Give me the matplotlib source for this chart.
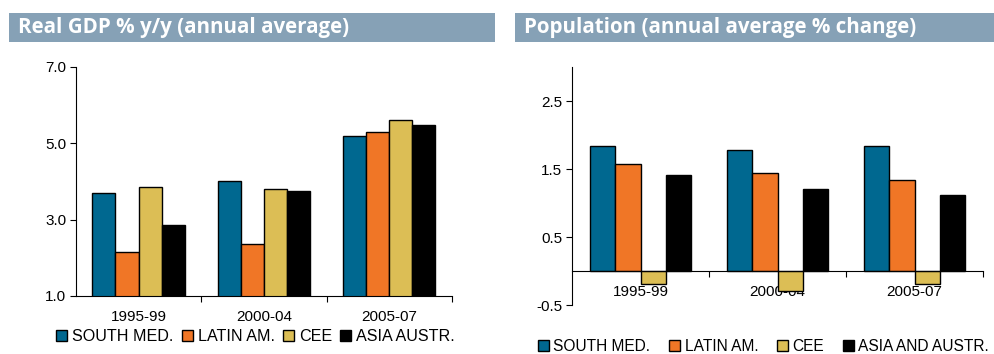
import numpy as np
import matplotlib
matplotlib.use("Agg")
import matplotlib.pyplot as plt
from matplotlib.patches import Rectangle

periods = ["1995-99", "2000-04", "2005-07"]
gdp_labels = ["SOUTH MED.", "LATIN AM.", "CEE", "ASIA AUSTR."]
pop_labels = ["SOUTH MED.", "LATIN AM.", "CEE", "ASIA AND AUSTR."]

# real GDP growth, % y/y
gdp_south_med = [3.7, 4.0, 5.2]
gdp_latin_am = [2.15, 2.37, 5.3]
gdp_cee = [3.85, 3.8, 5.6]
gdp_asia = [2.85, 3.75, 5.47]

# population growth, annual average %
pop_south_med = [1.84, 1.79, 1.84]
pop_latin_am = [1.58, 1.44, 1.35]
pop_cee = [-0.18, -0.29, -0.18]
pop_asia = [1.41, 1.21, 1.12]

colors = ["#006890", "#F07626", "#DCBE55", "#000000"]
band_color = "#86A1B6"

plt.rcParams["font.family"] = ["Liberation Sans", "DejaVu Sans"]
plt.rcParams["font.size"] = 11

fig = plt.figure(figsize=(9.94, 3.54), dpi=100)

# heading bands
for x0, w, text in [(0.009, 0.489, "Real GDP % y/y (annual average)"),
                    (0.518, 0.482, "Population (annual average % change)")]:
    fig.patches.append(Rectangle((x0, 0.8814), w, 0.0819, transform=fig.transFigure,
                                 facecolor=band_color, edgecolor="none"))
    fig.text(x0 + 0.0095, 0.921, text, color="white", fontsize=14.8, fontweight="bold",
             family="Open Sans", va="center", ha="left")

x = np.arange(len(periods))
bw = 0.185


def draw(ax, series, labels):
    for i, (vals, col, lab) in enumerate(zip(series, colors, labels)):
        ax.bar(x + (i - 1.5) * bw, vals, bw, color=col, edgecolor="black",
               linewidth=1.0, label=lab, zorder=2)
    ax.set_xlim(-0.5, 2.5)
    ax.set_xticks([0.5, 1.5, 2.5])
    ax.set_xticklabels([])
    ax.set_xticks(x, minor=True)
    ax.set_xticklabels(periods, minor=True)
    ax.tick_params(axis="x", which="major", direction="out", length=4, width=0.8)
    ax.tick_params(axis="x", which="minor", length=0, pad=10)
    ax.tick_params(axis="y", direction="out", length=4, width=0.8, pad=3)
    for s in ["top", "right"]:
        ax.spines[s].set_visible(False)
    ax.spines["left"].set_linewidth(0.8)
    ax.spines["bottom"].set_linewidth(0.8)


ax1 = fig.add_axes([0.0765, 0.164, 0.378, 0.647])
draw(ax1, [gdp_south_med, gdp_latin_am, gdp_cee, gdp_asia], gdp_labels)
ax1.set_ylim(1, 7)
ax1.set_yticks([1, 3, 5, 7])
ax1.set_yticklabels(["1.0", "3.0", "5.0", "7.0"])
ax1.legend(loc="center", bbox_to_anchor=(0.257, 0.049), bbox_transform=fig.transFigure,
           ncol=4, frameon=False, handlelength=0.7, handleheight=0.7,
           handletextpad=0.3, columnspacing=0.5, fontsize=11.6)

ax2 = fig.add_axes([0.5755, 0.1376, 0.4135, 0.672])
draw(ax2, [pop_south_med, pop_latin_am, pop_cee, pop_asia], pop_labels)
ax2.set_ylim(-0.5, 3.0)
ax2.set_yticks([-0.5, 0.5, 1.5, 2.5])
ax2.set_yticklabels(["-0.5", "0.5", "1.5", "2.5"])
ax2.spines["bottom"].set_position(("data", 0))
ax2.legend(loc="center", bbox_to_anchor=(0.768, 0.022), bbox_transform=fig.transFigure,
           ncol=4, frameon=False, handlelength=0.7, handleheight=0.7,
           handletextpad=0.3, columnspacing=1.2, fontsize=11.2)

fig.savefig("out.png", dpi=100)
